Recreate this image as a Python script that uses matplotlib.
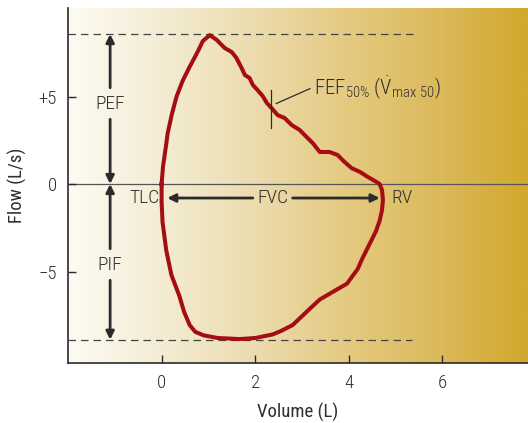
import numpy as np
import matplotlib
matplotlib.use('Agg')
import matplotlib.pyplot as plt
from matplotlib.colors import LinearSegmentedColormap

plt.rcParams['font.family'] = ['Roboto Condensed', 'DejaVu Sans']
plt.rcParams['font.weight'] = 300
plt.rcParams['mathtext.fontset'] = 'custom'
plt.rcParams['mathtext.rm'] = 'Roboto Condensed:light'
plt.rcParams['mathtext.it'] = 'Roboto Condensed:light'

# flow-volume loop (volume L, flow L/s)
vol = [0.0, 0.03, 0.1, 0.13, 0.22, 0.32, 0.45, 0.6, 0.72, 0.81, 0.88, 1.03, 1.18, 1.35, 1.5,
       1.6, 1.71, 1.78, 1.88, 1.95, 2.05, 2.16, 2.25, 2.35, 2.48, 2.63, 2.78, 2.95, 3.12,
       3.23, 3.38, 3.59, 3.76, 3.91, 4.06, 4.24, 4.41, 4.56, 4.66, 4.71, 4.73, 4.71,
       4.66, 4.58, 4.45, 4.3, 4.19, 3.96, 3.7, 3.38, 3.1, 2.8, 2.55, 2.37, 2.0, 1.67,
       1.2, 0.9, 0.72, 0.6, 0.48, 0.38, 0.21, 0.1, 0.02, 0.0, 0.0]
flow = [0.0, 1.0, 2.3, 2.9, 4.0, 5.0, 5.9, 6.7, 7.3, 7.77, 8.17, 8.51, 8.23, 7.77, 7.54,
        7.2, 6.63, 6.23, 6.06, 5.66, 5.37, 5.03, 4.63, 4.34, 3.94, 3.77, 3.37, 3.09, 2.63,
        2.34, 1.83, 1.83, 1.66, 1.26, 0.91, 0.69, 0.4, 0.17, 0.0, -0.34, -0.91, -1.49,
        -2.1, -2.7, -3.4, -4.2, -4.86, -5.7, -6.1, -6.6, -7.3, -8.06, -8.4, -8.6, -8.8, -8.86,
        -8.8, -8.65, -8.45, -8.06, -7.3, -6.4, -5.2, -3.8, -2.17, -1.0, 0.0]

pef = 8.57
pif = -8.9
fef50_vol = 2.33
arrow_x = -1.1

xticks = [0, 2, 4, 6]
yticks = [-5, 0, 5]
yticklabels = ['\u22125', '0', '+5']

fig = plt.figure(figsize=(5.28, 4.23), dpi=100)
ax = fig.add_axes([0.1288, 0.1418, 0.8712, 0.8393])
ax.set_xlim(-2.0, 7.83)
ax.set_ylim(-10.23, 10.06)

bg = LinearSegmentedColormap.from_list('bg', [
    (0.0, (253/255, 251/255, 243/255)),
    (0.2, (244/255, 236/255, 212/255)),
    (0.4, (236/255, 220/255, 175/255)),
    (0.6, (229/255, 202/255, 130/255)),
    (0.8, (220/255, 186/255, 92/255)),
    (1.0, (210/255, 168/255, 45/255)),
])
ax.imshow(np.linspace(0, 1, 256).reshape(1, -1), cmap=bg, aspect='auto',
          extent=[-2.0, 7.83, -10.23, 10.06], zorder=0)

ink = '#2b2b2b'
txtc = '#2e2e2e'
ax.axhline(0, color='#555555', lw=0.9, zorder=1)
ax.plot([-2.0, 5.4], [pef, pef], ls=(0, (6, 4)), color='#444444', lw=0.9, zorder=1)
ax.plot([-2.0, 5.35], [pif, pif], ls=(0, (6, 4)), color='#444444', lw=0.9, zorder=1)

ax.plot(vol, flow, color='#a50d12', lw=2.9, solid_joinstyle='round', zorder=3)

ap = dict(arrowstyle='-|>', color=ink, lw=2, mutation_scale=12, shrinkA=0, shrinkB=0)
# PEF
ax.annotate('', xy=(arrow_x, pef), xytext=(arrow_x, 5.5), arrowprops=ap)
ax.annotate('', xy=(arrow_x, 0), xytext=(arrow_x, 3.7), arrowprops=ap)
ax.text(arrow_x, 4.6, 'PEF', ha='center', va='center', fontsize=14, color=txtc)
# PIF
ax.annotate('', xy=(arrow_x, 0), xytext=(arrow_x, -3.7), arrowprops=ap)
ax.annotate('', xy=(arrow_x, pif), xytext=(arrow_x, -5.5), arrowprops=ap)
ax.text(arrow_x, -4.6, 'PIF', ha='center', va='center', fontsize=14, color=txtc)
# FVC
ax.annotate('', xy=(0.12, -0.8), xytext=(1.95, -0.8), arrowprops=ap)
ax.annotate('', xy=(4.66, -0.8), xytext=(2.8, -0.8), arrowprops=ap)
ax.text(2.37, -0.8, 'FVC', ha='center', va='center', fontsize=14, color=txtc)
ax.text(-0.37, -0.8, 'TLC', ha='center', va='center', fontsize=14, color=txtc)
ax.text(4.9, -0.8, 'RV', ha='left', va='center', fontsize=14, color=txtc)

# FEF50 marker
ax.plot([fef50_vol, fef50_vol], [3.2, 5.4], color=ink, lw=0.9, zorder=4)
ax.plot([2.45, 3.17], [4.6, 5.45], color=ink, lw=0.9, zorder=4)
ax.text(3.25, 5.45, r'FEF$_{50\%}$ ($\dot{\mathrm{V}}_{\mathrm{max\ 50}}$)',
        ha='left', va='center', fontsize=15, color=txtc)

ax.set_xticks(xticks)
ax.set_yticks(yticks)
ax.set_yticklabels(yticklabels)
ax.tick_params(direction='in', length=6, width=1, colors=ink, labelsize=13.5, pad=8)
for lab in ax.get_xticklabels() + ax.get_yticklabels():
    lab.set_color(txtc)
for s in ['top', 'right']:
    ax.spines[s].set_visible(False)
for s in ['left', 'bottom']:
    ax.spines[s].set_color(ink)
    ax.spines[s].set_linewidth(1.2)
ax.set_xlabel('Volume (L)', fontsize=13.5, color=txtc, labelpad=8)
ax.set_ylabel('Flow (L/s)', fontsize=13.5, color=txtc, labelpad=8)

fig.savefig('out.png', dpi=100)
